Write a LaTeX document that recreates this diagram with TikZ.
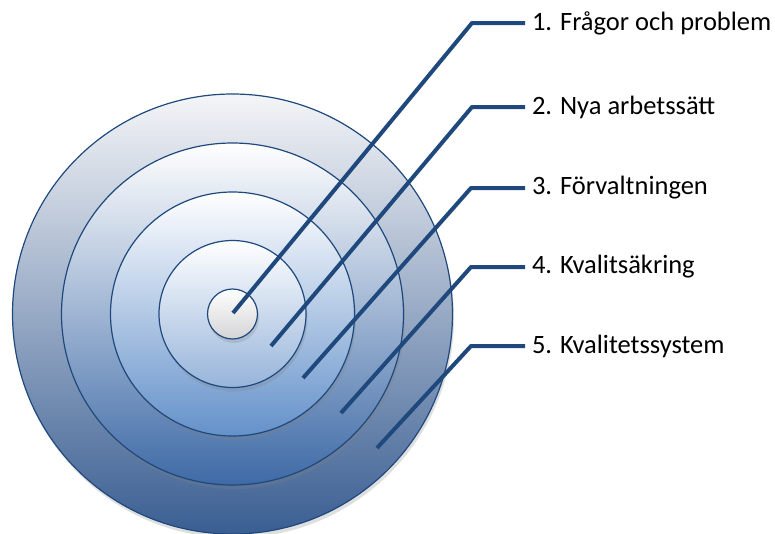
\documentclass[tikz,border=0pt]{standalone}
\usepackage{fontspec}
\setmainfont{Carlito}
\usetikzlibrary{shadows}
\definecolor{lineblue}{RGB}{31,73,125}
\definecolor{topgray}{RGB}{244,245,247}
\definecolor{blueA}{RGB}{58,94,146}
\definecolor{blueB}{RGB}{62,106,166}
\definecolor{blueC}{RGB}{100,145,202}
\definecolor{blueD}{RGB}{150,180,218}
\definecolor{grayE}{RGB}{212,212,214}

\begin{document}
\begin{tikzpicture}[x=1pt,y=-1pt]
  \tikzstyle{disk}=[circle,draw=lineblue,line width=1.2pt,inner sep=0pt,
    drop shadow={shadow xshift=1.5pt,shadow yshift=-4pt,opacity=0.25}]
  \tikzstyle{lbl}=[anchor=west,inner sep=0pt,outer sep=7pt,font=\fontsize{26.5}{30}\selectfont]
  \tikzstyle{lead}=[line width=4pt,draw=lineblue,line join=round]
  \useasboundingbox (0,0) rectangle (775,533);

  % target rings, outermost first
  \node[disk,minimum size=440pt,top color=topgray,bottom color=blueA] (ring5) at (232.5,314) {};
  \node[disk,minimum size=342pt,top color=white,bottom color=blueB] (ring4) at (232.5,314) {};
  \node[disk,minimum size=244pt,top color=white,bottom color=blueC] (ring3) at (232.5,314) {};
  \node[disk,minimum size=147pt,top color=white,bottom color=blueD] (ring2) at (232.5,314) {};
  \node[disk,minimum size=50pt,top color=white,bottom color=grayE] (ring1) at (232.5,314) {};

  % labels
  \node[lbl] (lab1) at (525,23) {1. Frågor och problem};
  \node[lbl] (lab2) at (525,107) {2. Nya arbetssätt};
  \node[lbl] (lab3) at (525,188) {3. Förvaltningen};
  \node[lbl] (lab4) at (525,267) {4. Kvalitsäkring};
  \node[lbl] (lab5) at (525,346) {5. Kvalitetssystem};

  % leader lines
  \coordinate (s1) at (233,313);  \coordinate (k1) at (472,23);
  \coordinate (s2) at (271,346);  \coordinate (k2) at (472,107);
  \coordinate (s3) at (303,378);  \coordinate (k3) at (471,188);
  \coordinate (s4) at (341,413);  \coordinate (k4) at (471,267);
  \coordinate (s5) at (377,448);  \coordinate (k5) at (471,346);
  \draw[lead] (s1) -- (k1) -- (lab1.west);
  \draw[lead] (s2) -- (k2) -- (lab2.west);
  \draw[lead] (s3) -- (k3) -- (lab3.west);
  \draw[lead] (s4) -- (k4) -- (lab4.west);
  \draw[lead] (s5) -- (k5) -- (lab5.west);
\end{tikzpicture}
\end{document}
